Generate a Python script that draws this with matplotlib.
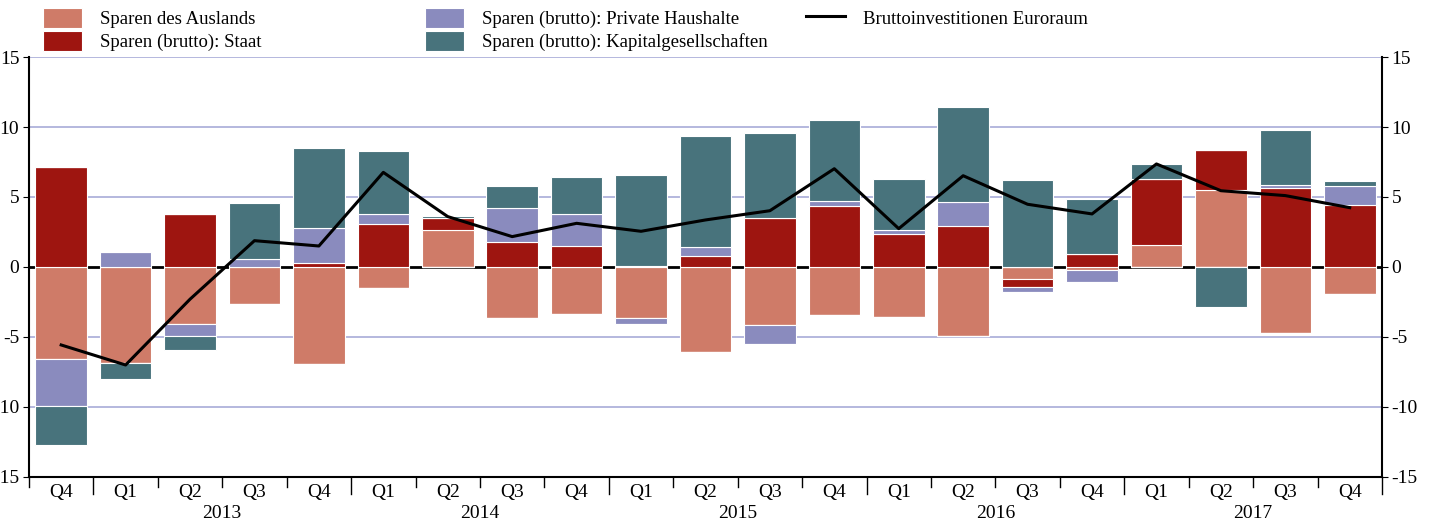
import numpy as np
import matplotlib
matplotlib.use("Agg")
import matplotlib.pyplot as plt

plt.rcParams['font.family'] = ['Liberation Serif', 'DejaVu Serif']

quarters = ['Q4', 'Q1', 'Q2', 'Q3', 'Q4', 'Q1', 'Q2', 'Q3', 'Q4', 'Q1', 'Q2',
            'Q3', 'Q4', 'Q1', 'Q2', 'Q3', 'Q4', 'Q1', 'Q2', 'Q3', 'Q4']
years = ['2013', '2014', '2015', '2016', '2017']

ausland = [-6.6, -6.88, -4.1, -2.64, -6.93, -1.48, 2.64, -3.67, -3.36, -3.67, -6.1,
           -4.17, -3.45, -3.55, -4.9, -0.83, -0.21, 1.55, 5.52, -4.69, -1.93]
staat = [7.17, 0.0, 3.76, 0.0, 0.26, 3.05, 0.83, 1.81, 1.52, 0.1, 0.79,
         3.48, 4.38, 2.33, 2.95, -0.57, 0.93, 4.74, 2.81, 5.64, 4.43]
haushalte = [-3.33, 1.07, -0.8, 0.6, 2.55, 0.71, 0.0, 2.43, 2.24, -0.38, 0.64,
             -1.36, 0.36, 0.29, 1.67, -0.4, -0.86, 0.0, 0.0, 0.24, 1.36]
kapital = [-2.78, -1.14, -1.05, 4.0, 5.67, 4.55, 0.15, 1.57, 2.69, 6.5, 7.95,
           6.12, 5.74, 3.69, 6.83, 6.21, 3.93, 1.04, -2.83, 3.88, 0.38]
investitionen = [-5.57, -7.0, -2.3, 1.88, 1.5, 6.76, 3.6, 2.17, 3.12, 2.55, 3.36,
                 4.02, 7.02, 2.74, 6.52, 4.48, 3.79, 7.36, 5.45, 5.1, 4.24]

series = [
    (ausland, 'Sparen des Auslands', '#CF7B68'),
    (staat, 'Sparen (brutto): Staat', '#9E1510'),
    (haushalte, 'Sparen (brutto): Private Haushalte', '#8A8BBE'),
    (kapital, 'Sparen (brutto): Kapitalgesellschaften', '#48737C'),
]

x = np.arange(len(quarters))

fig = plt.figure(figsize=(14.34, 5.23), dpi=100)
ax = fig.add_axes([0.0202, 0.088, 0.9435, 0.803])

for v in [15, 10, 5, -5, -10]:
    ax.axhline(v, color='#A8ACD8', lw=1.2, zorder=0)
ax.axhline(0, color='black', lw=2, zorder=0.5)

pos_base = np.zeros(len(x))
neg_base = np.zeros(len(x))
handles = []
for vals, name, col in series:
    vals = np.array(vals)
    p = np.where(vals > 0, vals, 0)
    n = np.where(vals < 0, vals, 0)
    b = ax.bar(x, p, 0.8, bottom=pos_base, color=col, edgecolor='white', lw=0.8, zorder=2, label=name)
    ax.bar(x, n, 0.8, bottom=neg_base, color=col, edgecolor='white', lw=0.8, zorder=2)
    pos_base += p
    neg_base += n
    handles.append(b)

line, = ax.plot(x, investitionen, color='black', lw=2.2, zorder=3, label='Bruttoinvestitionen Euroraum')

ax.set_xlim(-0.5, len(x) - 0.5)
ax.set_ylim(-15, 15)
ax.set_yticks([15, 10, 5, 0, -5, -10, -15])
ax.set_yticklabels(['15', '10', '5', '0', '-5', '-10', '-15'])
ax.tick_params(axis='y', labelsize=14, length=4, direction='out', right=True, labelright=True, pad=3)

ax.set_xticks(x)
ax.set_xticklabels(quarters)
ax.tick_params(axis='x', length=0, labelsize=14, pad=5)
for b in np.arange(-0.5, len(x), 1.0):
    big = (b + 0.5) % 4 == 1
    ax.plot([b, b], [0, -0.025 if not big else -0.04], transform=ax.get_xaxis_transform(),
            color='black', lw=1, clip_on=False)
for i, yr in enumerate(years):
    ax.text(2.5 + 4 * i, -0.086, yr, transform=ax.get_xaxis_transform(),
            ha='center', va='center', fontsize=14)

ax.spines['top'].set_visible(False)
for s in ['left', 'right', 'bottom']:
    ax.spines[s].set_linewidth(1.5)

# three legend columns placed separately, as in the original
leg_kw = dict(loc='upper left', ncol=1, frameon=False, fontsize=13.5, handlelength=2.1,
              handleheight=1.25, labelspacing=0.15, handletextpad=0.95,
              borderpad=0, borderaxespad=0)
fig.legend(handles[0:2], [h.get_label() for h in handles[0:2]],
           bbox_to_anchor=(43 / 1434, 0.985), **leg_kw)
fig.legend(handles[2:4], [h.get_label() for h in handles[2:4]],
           bbox_to_anchor=(425 / 1434, 0.985), **leg_kw)
fig.legend([line], [line.get_label()],
           bbox_to_anchor=(806 / 1434, 0.985), **leg_kw)

fig.savefig('out.png', dpi=100)
